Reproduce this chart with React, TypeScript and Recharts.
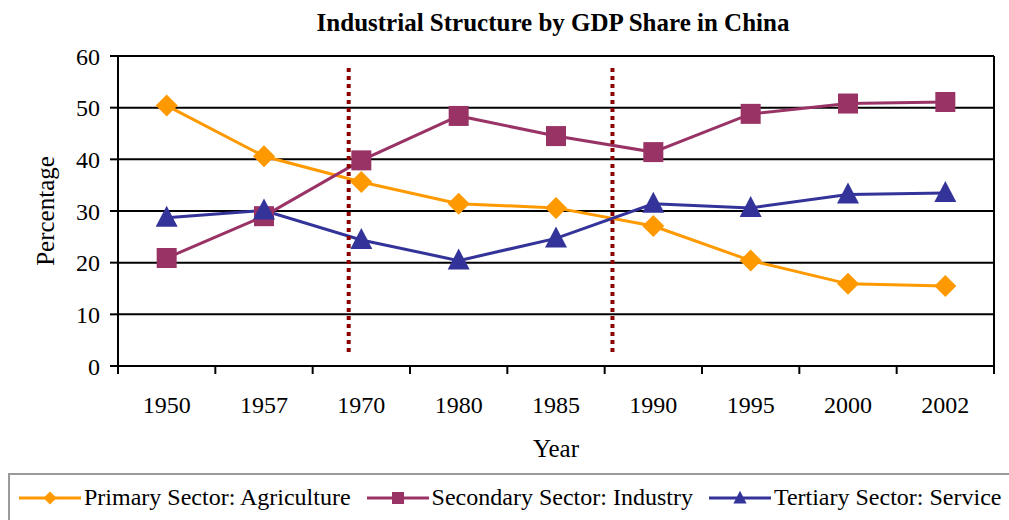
import {
  CartesianGrid,
  Customized,
  Legend,
  Line,
  LineChart,
  ReferenceLine,
  XAxis,
  YAxis,
} from "recharts";

// GDP share (%) by sector
const years = ["1950", "1957", "1970", "1980", "1985", "1990", "1995", "2000", "2002"];
const primary = [50.4, 40.6, 35.6, 31.4, 30.6, 27.1, 20.4, 15.9, 15.5];
const secondary = [20.9, 29.0, 39.8, 48.4, 44.5, 41.4, 48.8, 50.8, 51.1];
const tertiary = [28.7, 30.1, 24.4, 20.4, 24.7, 31.4, 30.6, 33.2, 33.5];
const yTicks = [0, 10, 20, 30, 40, 50, 60];
// period breaks, in category units along the x axis
const periodBreaks = [2.37, 5.08];
const breakSpan = [2.7, 57.7];

const FONT = "'Liberation Serif', 'Times New Roman', serif";

const series = [
  { key: "primary", name: "Primary Sector: Agriculture", color: "#FF9900", marker: "diamond" },
  { key: "secondary", name: "Secondary Sector: Industry", color: "#993366", marker: "square" },
  { key: "tertiary", name: "Tertiary Sector: Service", color: "#333399", marker: "triangle" },
];

// category i sits in the middle of slot [i, i+1]
const data = years.map((year, i) => ({
  x: i + 0.5,
  year,
  primary: primary[i],
  secondary: secondary[i],
  tertiary: tertiary[i],
}));

function markerShape(kind: string, cx: number, cy: number, color: string) {
  if (kind === "diamond") {
    return (
      <polygon
        points={`${cx},${cy - 11} ${cx + 11},${cy} ${cx},${cy + 11} ${cx - 11},${cy}`}
        fill={color}
      />
    );
  }
  if (kind === "square") {
    return <rect x={cx - 10} y={cy - 10} width={20} height={20} fill={color} />;
  }
  return (
    <polygon points={`${cx},${cy - 12} ${cx + 11},${cy + 9} ${cx - 11},${cy + 9}`} fill={color} />
  );
}

const makeDot = (kind: string, color: string) => (props: any) => {
  const { cx, cy, index } = props;
  if (cx == null || cy == null) return <g key={index} />;
  return <g key={index}>{markerShape(kind, cx, cy, color)}</g>;
};

const YearTick = (props: any) => {
  const { x, y, payload, width } = props;
  const i = payload.value;
  if (i >= years.length) return <g />;
  const half = width / years.length / 2;
  return (
    <text x={x + half} y={y + 37} textAnchor="middle" fontSize={24} fill="#000" fontFamily={FONT}>
      {years[i]}
    </text>
  );
};

const Title = () => (
  <text
    x={553}
    y={31}
    textAnchor="middle"
    fontSize={25}
    fontWeight="bold"
    fill="#000"
    fontFamily={FONT}
  >
    Industrial Structure by GDP Share in China
  </text>
);

const LegendBox = () => (
  <div
    style={{
      boxSizing: "border-box",
      height: 47,
      borderTop: "2px solid #9a9a9a",
      borderLeft: "2px solid #9a9a9a",
      display: "flex",
      alignItems: "center",
      paddingLeft: 9,
      fontFamily: FONT,
      fontSize: 24,
      color: "#000",
      whiteSpace: "nowrap",
    }}
  >
    {series.map((s) => (
      <div key={s.key} style={{ display: "flex", alignItems: "center", marginRight: 16 }}>
        <svg width={62} height={24} style={{ marginRight: 3 }}>
          <line x1={0} y1={12} x2={62} y2={12} stroke={s.color} strokeWidth={3} />
          <g transform="translate(31,12) scale(0.6) translate(-31,-12)">
            {markerShape(s.marker, 31, 12, s.color)}
          </g>
        </svg>
        <span>{s.name}</span>
      </div>
    ))}
  </div>
);

export default function App() {
  return (
    <div style={{ position: "absolute", left: 0, top: 0, width: 1009, height: 520, background: "#fff" }}>
      <LineChart
        width={1009}
        height={520}
        data={data}
        margin={{ top: 56, right: 15, bottom: 0, left: 0 }}
        style={{ fontFamily: FONT }}
      >
        <CartesianGrid horizontal vertical={false} stroke="#000" strokeWidth={2} />
        <XAxis
          dataKey="x"
          type="number"
          domain={[0, 9]}
          ticks={[0, 1, 2, 3, 4, 5, 6, 7, 8, 9]}
          interval={0}
          height={107}
          tickSize={8}
          stroke="#000"
          strokeWidth={2}
          tick={YearTick}
          label={{
            value: "Year",
            position: "insideBottom",
            offset: 16,
            fontSize: 25,
            fill: "#000",
            fontFamily: FONT,
          }}
        />
        <YAxis
          domain={[0, 60]}
          ticks={yTicks}
          interval={0}
          width={118}
          tickSize={8}
          tickMargin={10}
          stroke="#000"
          strokeWidth={2}
          tick={{ fontSize: 24, fill: "#000", fontFamily: FONT }}
          label={{
            value: "Percentage",
            angle: -90,
            position: "insideLeft",
            offset: 45,
            fontSize: 25,
            fill: "#000",
            fontFamily: FONT,
            style: { textAnchor: "middle" },
          }}
        />
        <ReferenceLine x={9} stroke="#000" strokeWidth={2} />
        {series.map((s) => (
          <Line
            key={s.key}
            type="linear"
            dataKey={s.key}
            name={s.name}
            stroke={s.color}
            strokeWidth={3}
            dot={makeDot(s.marker, s.color)}
            activeDot={false}
            isAnimationActive={false}
          />
        ))}
        {periodBreaks.map((b) => (
          <ReferenceLine
            key={b}
            segment={[
              { x: b, y: breakSpan[0] },
              { x: b, y: breakSpan[1] },
            ]}
            stroke="#8B0000"
            strokeWidth={4}
            strokeDasharray="4 4"
          />
        ))}
        <Legend
          verticalAlign="bottom"
          content={LegendBox}
          wrapperStyle={{ left: 8, width: 1010, bottom: 0 }}
        />
        <Customized component={Title} />
      </LineChart>
    </div>
  );
}
